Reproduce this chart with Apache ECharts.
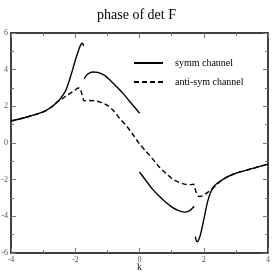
<!DOCTYPE html>
<html><head><meta charset="utf-8">
<script src="https://cdn.jsdelivr.net/npm/echarts@6/dist/echarts.min.js"></script>
<style>html,body{margin:0;padding:0;background:#fff}#c{width:273px;height:273px}</style>
</head><body><div id="c"></div>
<script>
// symm channel (null = break between branches)
var symmK = [-4, -3.5, -3, -2.75, -2.55, -2.45, -2.3, -2.15, -2.0, -1.9, -1.83, -1.79, -1.76, -1.74, null,
  -1.72, -1.65, -1.55, -1.45, -1.3, -1.1, -0.9, -0.7, -0.5, -0.3, -0.15, 0, null,
  0, 0.2, 0.4, 0.6, 0.8, 1.0, 1.2, 1.4, 1.55, 1.65, 1.7, null,
  1.74, 1.78, 1.82, 1.88, 1.95, 2.04, 2.12, 2.2, 2.3, 2.4, 2.5, 2.7, 3.0, 3.5, 4.0];
var symmPhase = [1.2, 1.42, 1.7, 1.95, 2.25, 2.45, 2.85, 3.6, 4.5, 5.05, 5.35, 5.45, 5.4, 5.28, null,
  3.5, 3.7, 3.82, 3.87, 3.85, 3.7, 3.4, 3.05, 2.68, 2.25, 1.95, 1.62, null,
  -1.58, -2.05, -2.5, -2.88, -3.2, -3.48, -3.68, -3.77, -3.7, -3.55, -3.45, null,
  -5.1, -5.38, -5.35, -5.1, -4.6, -3.85, -3.2, -2.75, -2.4, -2.22, -2.1, -1.88, -1.65, -1.4, -1.15];
// anti-sym channel
var antiK = [-4, -3.5, -3, -2.75, -2.55, -2.45, -2.3, -2.15, -2.0, -1.9, -1.85, -1.8, -1.75, -1.72,
  -1.6, -1.4, -1.2, -1.0, -0.8, -0.6, -0.4, -0.2, 0, 0.2, 0.4, 0.6, 0.8, 1.0, 1.2, 1.4, 1.6, 1.68,
  1.72, 1.78, 1.86, 1.95, 2.1, 2.25, 2.4, 2.5, 2.7, 3.0, 3.5, 4.0];
var antiPhase = [1.2, 1.42, 1.7, 1.95, 2.25, 2.35, 2.55, 2.72, 2.9, 3.0, 2.98, 2.7, 2.4, 2.3,
  2.32, 2.3, 2.22, 2.05, 1.75, 1.3, 0.92, 0.45, -0.05, -0.45, -0.85, -1.28, -1.62, -1.92, -2.12, -2.24, -2.27, -2.25,
  -2.45, -2.75, -2.92, -2.88, -2.72, -2.52, -2.28, -2.12, -1.88, -1.65, -1.4, -1.15];
var xTicks = [-4, -2, 0, 2, 4];
var yTicks = [-6, -4, -2, 0, 2, 4, 6];

function pairs(xs, ys) {
  return xs.map(function (x, i) { return (x === null || ys[i] === null) ? ['-', '-'] : [x, ys[i]]; });
}
var serif = 'Liberation Serif';
var tickCol = '#777';
function axisBase(pos, show, lo, hi) {
  return {
    type: 'value', position: pos, min: lo, max: hi, interval: 2,
    axisLine: { show: true, onZero: false, lineStyle: { color: '#000', width: 1.5 } },
    axisTick: { show: true, inside: true, length: 5, lineStyle: { color: tickCol, width: 1 } },
    minorTick: { show: true, splitNumber: 2, length: 3, lineStyle: { color: tickCol, width: 1 } },
    splitLine: { show: false },
    axisLabel: { show: show, fontFamily: serif, fontSize: 8, color: '#555', margin: 3 }
  };
}
var xb = axisBase('bottom', true, xTicks[0], xTicks[xTicks.length - 1]);
xb.name = 'k'; xb.nameLocation = 'middle'; xb.nameGap = 9; xb.nameMoveOverlap = false;
xb.nameTextStyle = { fontFamily: serif, fontSize: 10, color: '#222', verticalAlign: 'top' };
var xt = axisBase('top', false, xTicks[0], xTicks[xTicks.length - 1]);
var yl = axisBase('left', true, yTicks[0], yTicks[yTicks.length - 1]);
yl.axisLabel.margin = 3;
var yr = axisBase('right', false, yTicks[0], yTicks[yTicks.length - 1]);

var chart = echarts.init(document.getElementById('c'), null, { renderer: 'canvas' });
chart.setOption({
  animation: false,
  backgroundColor: '#fff',
  title: { text: 'phase of det F', left: 'center', top: 3,
    textStyle: { fontFamily: serif, fontSize: 14, fontWeight: 'normal', color: '#000' } },
  grid: { left: 11, right: 5, top: 33, bottom: 20, containLabel: false, outerBoundsMode: 'none' },
  legend: {
    orient: 'vertical', left: 133, top: 58, padding: 0, itemWidth: 29, itemHeight: 10, itemGap: 9,
    itemStyle: { opacity: 0 },
    textStyle: { fontFamily: serif, fontSize: 10, color: '#000', padding: [0, 0, 0, 7] },
    data: ['symm channel', 'anti-sym channel']
  },
  xAxis: [xb, xt],
  yAxis: [yl, yr],
  series: [
    { name: 'symm channel', type: 'line', xAxisIndex: 0, yAxisIndex: 0, data: pairs(symmK, symmPhase),
      showSymbol: false, symbol: 'none', smooth: 0.3, connectNulls: false,
      lineStyle: { color: '#000', width: 1.4 }, itemStyle: { color: '#000' } },
    { name: 'anti-sym channel', type: 'line', xAxisIndex: 0, yAxisIndex: 0, data: pairs(antiK, antiPhase),
      showSymbol: false, symbol: 'none', smooth: 0.3,
      lineStyle: { color: '#000', width: 1.4, type: [5, 3] }, itemStyle: { color: '#000' } }
  ]
});
</script></body></html>
